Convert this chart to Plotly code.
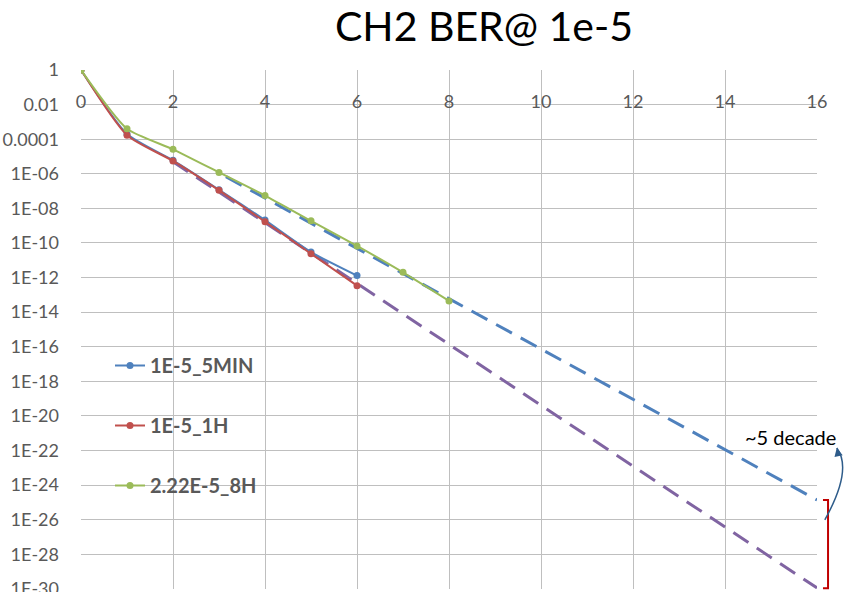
import plotly.graph_objects as go

# ---------------- data ----------------
x_pts = [0, 1, 2, 3, 4, 5, 6]
ber_5min = [1, 2.0e-4, 6.0e-6, 1.2e-7, 2.1e-9, 3.0e-11, 1.3e-12]
x_1h = [0, 1, 2, 3, 4, 5, 6]
ber_1h = [1, 1.7e-4, 5.5e-6, 1.1e-7, 1.7e-9, 2.4e-11, 3.4e-13]
x_8h = [0, 1, 2, 3, 4, 5, 6, 7, 8]
ber_8h = [1, 4.0e-4, 2.6e-5, 1.2e-6, 5.5e-8, 1.9e-9, 6.8e-11, 2.0e-12, 4.5e-14]
trend_fast_x = [3.15, 16]
trend_fast_y = [6.8e-7, 1.4e-25]
trend_slow_x = [2, 16]
trend_slow_y = [5.0e-6, 1.15e-30]

x_ticks = [0, 2, 4, 6, 8, 10, 12, 14, 16]
x_tick_text = ["0", "2", "4", "6", "8", "10", "12", "14", "16"]
y_ticks = [10.0 ** (-2 * k) for k in range(16)]
y_tick_text = ["1", "0.01", "0.0001"] + ["1E-%02d" % (2 * k) for k in range(3, 16)]

names = ["1E-5_5MIN", "1E-5_1H", "2.22E-5_8H"]
title_text = "CH2 BER@ 1e-5"
note_text = "~5 decade"

BLUE = "#4F81BD"
RED = "#C0504D"
GREEN = "#9BBB59"
PURPLE = "#8064A2"
GRID = "#BFBFBF"
FONT = "Lato, 'Open Sans', sans-serif"

fig = go.Figure()

# trendlines (dashed)
fig.add_trace(go.Scatter(x=trend_slow_x, y=trend_slow_y, mode="lines",
                         line=dict(color=PURPLE, width=3, dash="18px,10px"),
                         showlegend=False, hoverinfo="skip"))
fig.add_trace(go.Scatter(x=trend_fast_x, y=trend_fast_y, mode="lines",
                         line=dict(color=BLUE, width=3, dash="18px,10px"),
                         showlegend=False, hoverinfo="skip"))

# data series
for xs, ys, nm, col in [(x_pts, ber_5min, names[0], BLUE),
                        (x_1h, ber_1h, names[1], RED),
                        (x_8h, ber_8h, names[2], GREEN)]:
    fig.add_trace(go.Scatter(x=xs, y=ys, name=nm, legendgroup=nm,
                             mode="lines+markers",
                             line=dict(color=col, width=2, shape="spline", smoothing=0.6),
                             marker=dict(color=col, size=7)))

# decoration helpers (plot area: x 0..16, log y -30..0)
def xf(v):
    return v / 16.0

def yf(lg):
    return (lg + 30.0) / 30.0

shapes = []
# red bracket
bx0, bx1 = xf(16.13), xf(16.24)
ytop, ybot = yf(-24.85), yf(-29.95)
shapes.append(dict(type="path", xref="paper", yref="paper",
                   path="M %f,%f L %f,%f L %f,%f L %f,%f" % (bx0, ytop, bx1, ytop, bx1, ybot, bx0, ybot),
                   line=dict(color="#C00000", width=2)))
# curved arrow
sx, sy = xf(16.17), yf(-26.0)
cx, cy = xf(16.78), yf(-23.1)
ex, ey = xf(16.43), yf(-21.85)
shapes.append(dict(type="path", xref="paper", yref="paper",
                   path="M %f,%f Q %f,%f %f,%f" % (sx, sy, cx, cy, ex, ey),
                   line=dict(color="#2E5C8A", width=1.5)))

annotations = [
    dict(xref="paper", yref="paper", x=ex, y=ey, ax=2, ay=9, text="",
         showarrow=True, arrowhead=2, arrowsize=1.2, arrowwidth=1.4, arrowcolor="#2E5C8A"),
    dict(xref="paper", yref="paper", x=(790 - 81) / 736, y=(589 - 437) / 519, text=note_text,
         xanchor="center", yanchor="middle",
         showarrow=False, font=dict(family=FONT, size=20, color="#000000")),
]

fig.update_layout(
    width=846, height=592,
    margin=dict(l=81, r=29, t=70, b=3),
    paper_bgcolor="white", plot_bgcolor="white",
    title=dict(text=title_text, x=484 / 846, xanchor="center", y=1 - 27 / 592, yanchor="middle",
               font=dict(family=FONT, size=41, color="#000000")),
    font=dict(family=FONT, color="#595959"),
    showlegend=True,
    legend=dict(x=(110 - 81) / 736, y=(589 - 346) / 519, xanchor="left", yanchor="top",
                bgcolor="rgba(0,0,0,0)", tracegroupgap=31,
                font=dict(family=FONT, size=20, color="#595959", weight="bold")),
    shapes=shapes,
    annotations=annotations,
)

fig.update_xaxes(range=[0, 16], tickvals=x_ticks, ticktext=x_tick_text,
                 showgrid=True, gridcolor=GRID, gridwidth=1.4,
                 showline=False, zeroline=False, ticks="",
                 anchor="free", position=(589 - 89) / 519, side="bottom",
                 tickfont=dict(family=FONT, size=18, color="#595959"),
                 ticklabeloverflow="allow",
                 automargin=False)
fig.update_yaxes(type="log", range=[-30.003, 0], tickvals=y_ticks, ticktext=y_tick_text,
                 showgrid=True, gridcolor=GRID, gridwidth=1.4,
                 showline=False, zeroline=False, ticks="",
                 ticklabelstandoff=21, ticklabeloverflow="allow",
                 tickfont=dict(family=FONT, size=18, color="#595959"),
                 automargin=False)

fig.write_html("out.html")
